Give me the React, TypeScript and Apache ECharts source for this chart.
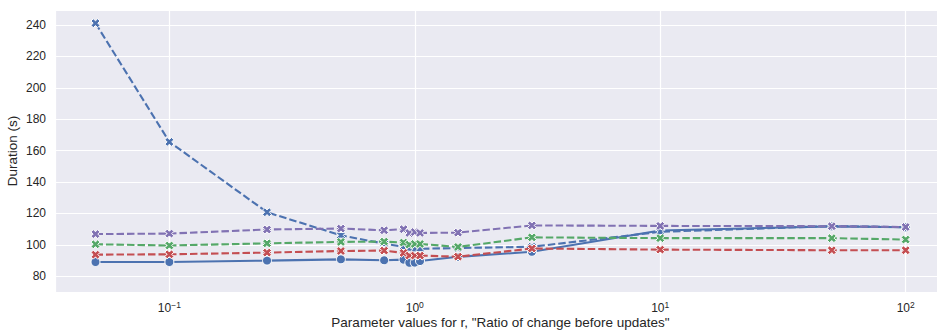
import React, { useEffect, useRef } from "react";
import * as echarts from "echarts";

// Parameter r values (log-scaled x axis)
const rValues = [0.05, 0.1, 0.25, 0.5, 0.75, 0.9, 0.95, 1.0, 1.05, 1.5, 3, 10, 50, 100];

// Duration in seconds for each run configuration
const blueSolid = [89.1, 89.1, 90.0, 90.8, 90.2, 90.6, 88.6, 88.7, 89.7, 92.4, 95.6, 109.2, 111.8, 111.2];
const blueDashed = [241.2, 165.6, 120.8, 106.1, 100.8, 98.8, 97.6, 97.2, 97.5, 98.0, 98.8, 108.3, 112.0, 111.3];
const redDashed = [93.8, 94.0, 95.1, 96.1, 96.4, 94.9, 93.2, 93.2, 93.2, 92.5, 97.7, 97.0, 96.6, 96.6];
const greenDashed = [100.4, 99.6, 101.0, 101.9, 102.1, 101.5, 100.2, 100.6, 100.6, 98.7, 104.8, 104.3, 104.3, 103.4];
const purpleDashed = [106.9, 107.2, 109.8, 110.4, 109.3, 110.0, 107.6, 108.2, 107.6, 107.8, 112.4, 112.1, 111.9, 111.4];

const xLabel = 'Parameter values for r, "Ratio of change before updates"';
const yLabel = "Duration (s)";

// filled "X" marker
const XMARK =
  "path://M0,2.6 L2.6,0 L5,2.4 L7.4,0 L10,2.6 L7.6,5 L10,7.4 L7.4,10 L5,7.6 L2.6,10 L0,7.4 L2.4,5 Z";

const FONT = "'Liberation Sans', Arial, sans-serif";
const TEXT = "#262626";

function makeSeries(
  name: string,
  values: number[],
  color: string,
  dashed: boolean,
  z: number
) {
  return {
    name,
    type: "line",
    data: rValues.map((r, i) => [r, values[i]]),
    symbol: dashed ? XMARK : "circle",
    symbolSize: 9,
    showAllSymbol: true,
    z,
    lineStyle: {
      color,
      width: 2.1,
      type: dashed ? [7.5, 3] : "solid",
    },
    itemStyle: {
      color,
      borderColor: "#ffffff",
      borderWidth: 1,
    },
    emphasis: { disabled: true },
  };
}

export default function App() {
  const ref = useRef<HTMLDivElement>(null);

  useEffect(() => {
    document.body.style.margin = "0";
    if (!ref.current) return;
    const chart = echarts.init(ref.current, undefined, { renderer: "svg" });

    const isPow10 = (v: number) => {
      const l = Math.log10(v);
      return Math.abs(l - Math.round(l)) < 1e-6;
    };

    chart.setOption({
      animation: false,
      backgroundColor: "#ffffff",
      textStyle: { fontFamily: FONT },
      grid: {
        left: 55,
        top: 10,
        right: -9,
        bottom: 38,
        outerBoundsMode: "none",
        containLabel: false,
        show: true,
        backgroundColor: "#EAEAF2",
        borderWidth: 0,
      },
      xAxis: {
        type: "log",
        logBase: 10,
        min: 0.0342,
        max: 146,
        splitNumber: 3,
        name: xLabel,
        nameLocation: "middle",
        nameGap: 23,
        nameMoveOverlap: false,
        nameTextStyle: { color: TEXT, fontSize: 13.5, fontFamily: FONT },
        axisLine: { show: false },
        axisTick: { show: false },
        minorTick: { show: false },
        splitLine: { show: true, lineStyle: { color: "#ffffff", width: 1.2 } },
        axisLabel: {
          color: TEXT,
          margin: 8,
          fontFamily: FONT,
          showMinLabel: false,
          showMaxLabel: false,
          formatter: (v: number) => {
            if (!isPow10(v)) return "";
            const e = Math.round(Math.log10(v));
            const exp = e < 0 ? "\u2212" + Math.abs(e) : String(e);
            return "{b|10}{s|" + exp + "}";
          },
          rich: {
            b: { fontSize: 12, color: TEXT, fontFamily: FONT },
            s: {
              fontSize: 8.5,
              color: TEXT,
              fontFamily: FONT,
              verticalAlign: "top",
              padding: [0, 0, 6, 0],
            },
          },
        },
      },
      yAxis: {
        type: "value",
        min: 70,
        max: 249.6,
        splitNumber: 9,
        minInterval: 20,
        maxInterval: 20,
        name: yLabel,
        nameLocation: "middle",
        nameGap: 36,
        nameMoveOverlap: false,
        nameTextStyle: { color: TEXT, fontSize: 13.5, fontFamily: FONT },
        axisLine: { show: false },
        axisTick: { show: false },
        splitLine: { show: true, lineStyle: { color: "#ffffff", width: 1.2 } },
        axisLabel: {
          color: TEXT,
          fontSize: 12,
          margin: 9,
          fontFamily: FONT,
          showMinLabel: false,
          showMaxLabel: false,
          formatter: (v: number) => (v % 20 === 0 ? String(v) : ""),
        },
      },
      series: [
        makeSeries("blue-solid", blueSolid, "#4C72B0", false, 2),
        makeSeries("blue-dashed", blueDashed, "#4C72B0", true, 3),
        makeSeries("red", redDashed, "#C44E52", true, 4),
        makeSeries("green", greenDashed, "#55A868", true, 5),
        makeSeries("purple", purpleDashed, "#8172B3", true, 6),
      ],
    });

    return () => chart.dispose();
  }, []);

  return <div ref={ref} style={{ width: 937, height: 330 }} />;
}
